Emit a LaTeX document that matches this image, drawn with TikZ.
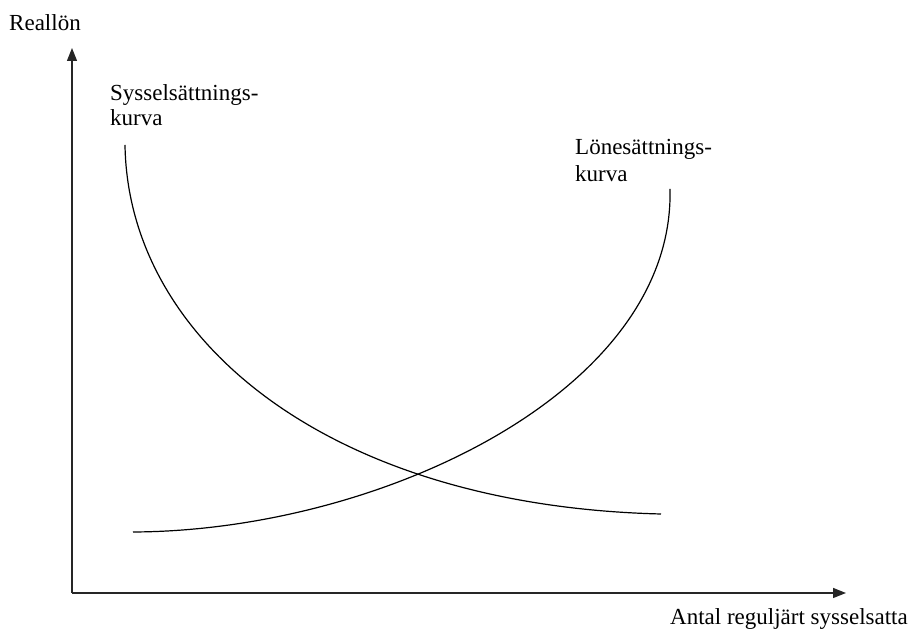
\documentclass[tikz,border=0pt]{standalone}
\usepackage{fontspec}
\setmainfont{Liberation Serif}
\usetikzlibrary{arrows.meta}
\begin{document}
\begin{tikzpicture}[x=1pt,y=1pt,
  lbl/.style={anchor=base west,inner sep=0pt,font=\rmfamily\fontsize{23}{27}\selectfont},
  axis/.style={line width=1.4pt,draw=black!85,-{Triangle[width=10pt,length=13pt]}},
  curve/.style={line width=1.2pt,black}]
\useasboundingbox (0,0) rectangle (914,631);
\coordinate (O) at (72,38);
\coordinate (Ytop) at (72,583);
\coordinate (Xend) at (846,38);
\draw[axis] (O) -- (Ytop);
\draw[axis] (O) -- (Xend);
\node[lbl] (ylab) at (9,600) {Reallön};
\node[lbl] (xlab) at (670,6) {Antal reguljärt sysselsatta};
\node[lbl] (d1) at (110,530) {Sysselsättnings-};
\node[lbl] (d2) at (110,505) {kurva};
\node[lbl] (s1) at (575,476) {Lönesättnings-};
\node[lbl] (s2) at (575,449) {kurva};
\coordinate (dA) at (125,486);
\coordinate (dB) at (661,117);
\coordinate (sA) at (133,99);
\coordinate (sB) at (670,442);
\draw[curve] (dA) .. controls (128,290) and (330,125) .. (dB);
\draw[curve] (sA) .. controls (380,100) and (675,240) .. (sB);
\end{tikzpicture}
\end{document}
